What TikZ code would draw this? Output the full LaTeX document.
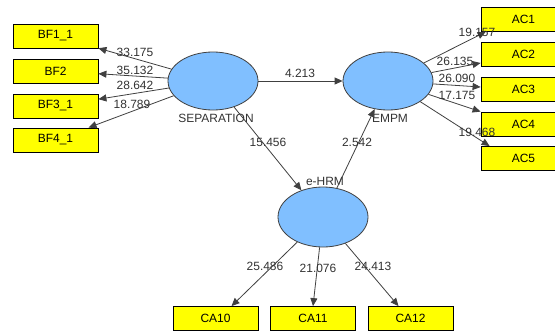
\documentclass[tikz,border=0pt]{standalone}
\usepackage{fontspec}
\setmainfont{Liberation Sans}
\usetikzlibrary{shapes.geometric,arrows.meta}

\definecolor{lvblue}{RGB}{128,191,255}
\definecolor{mvyellow}{RGB}{255,255,0}
\definecolor{pathgray}{RGB}{64,64,64}

\tikzset{
  latent/.style={ellipse,draw=pathgray,fill=lvblue,line width=0.8bp,
    minimum width=90bp,minimum height=58bp,inner sep=0pt},
  manifest/.style={rectangle,draw=black,fill=mvyellow,line width=0.8bp,
    minimum width=85bp,minimum height=24bp,inner sep=0pt,
    font=\fontsize{12}{14}\selectfont},
  lvname/.style={font=\fontsize{12}{14}\selectfont,text=black!80,inner sep=0pt},
  tval/.style={font=\fontsize{12}{14}\selectfont,text=black!80,inner sep=0pt},
  path/.style={draw=pathgray,line width=0.8bp,-{Triangle[length=8bp,width=7bp]}}
}

\begin{document}
\begin{tikzpicture}[x=1bp,y=1bp]
                \useasboundingbox[fill=white] (0,0) rectangle (555,330);
                % latent variables
                \node[latent] (sep) at (213,249) {};
                \node[latent] (empm) at (388,249) {};
                \node[latent,minimum height=60bp] (ehrm) at (323,113) {};
                \node[lvname] (seplbl) at (216,212) {SEPARATION};
                \node[lvname] (empmlbl) at (390,212) {EMPM};
                \node[lvname] (ehrmlbl) at (325,149) {e-HRM};
                % indicators
                \node[manifest] (bf1) at (55.5,294) {BF1\_1};
                \node[manifest] (bf2) at (55.5,259) {BF2};
                \node[manifest] (bf3) at (55.5,224) {BF3\_1};
                \node[manifest] (bf4) at (55.5,190) {BF4\_1};
                \node[manifest] (ac1) at (523.5,310.5) {AC1};
                \node[manifest] (ac2) at (523.5,276) {AC2};
                \node[manifest] (ac3) at (523.5,241) {AC3};
                \node[manifest] (ac4) at (523.5,206) {AC4};
                \node[manifest] (ac5) at (523.5,171.5) {AC5};
                \node[manifest] (ca10) at (215.5,11.5) {CA10};
                \node[manifest] (ca11) at (313,11.5) {CA11};
                \node[manifest] (ca12) at (410.5,11.5) {CA12};
                % paths
                \draw[path] (sep) -- (bf1);
                \draw[path] (sep) -- (bf2);
                \draw[path] (sep) -- (bf3);
                \draw[path] (sep) -- (bf4);
                \draw[path] (sep) -- (empm);
                \draw[path] (sep) -- (ehrm);
                \draw[path] (ehrm) -- (empm);
                \draw[path] (empm) -- ([xshift=5bp]ac1.south west);
                \draw[path] (empm) -- ([yshift=-9bp]ac2.west);
                \draw[path] (empm) -- ([yshift=2bp]ac3.west);
                \draw[path] (empm) -- (ac4.north west);
                \draw[path] (empm) -- ([xshift=9bp]ac5.north west);
                \draw[path] (ehrm) -- ([xshift=16bp]ca10.north);
                \draw[path] (ehrm) -- (ca11.north);
                \draw[path] (ehrm) -- ([xshift=-12bp]ca12.north);
                % t values
                \node[tval] (t1) at (135,278) {33.175};
                \node[tval] (t2) at (135,260) {35.132};
                \node[tval] (t3) at (135,245) {28.642};
                \node[tval] (t4) at (132,226) {18.789};
                \node[tval] (t5) at (300,257) {4.213};
                \node[tval] (t6) at (268,188) {15.456};
                \node[tval] (t7) at (357,188) {2.542};
                \node[tval] (t8) at (477,298) {19.157};
                \node[tval] (t9) at (455,269) {26.135};
                \node[tval] (t10) at (457,252) {26.090};
                \node[tval] (t11) at (457,235) {17.175};
                \node[tval] (t12) at (477,198) {19.468};
                \node[tval] (t13) at (265,64) {25.486};
                \node[tval] (t14) at (318,62) {21.076};
                \node[tval] (t15) at (373,64) {24.413};
            \end{tikzpicture}
\end{document}
